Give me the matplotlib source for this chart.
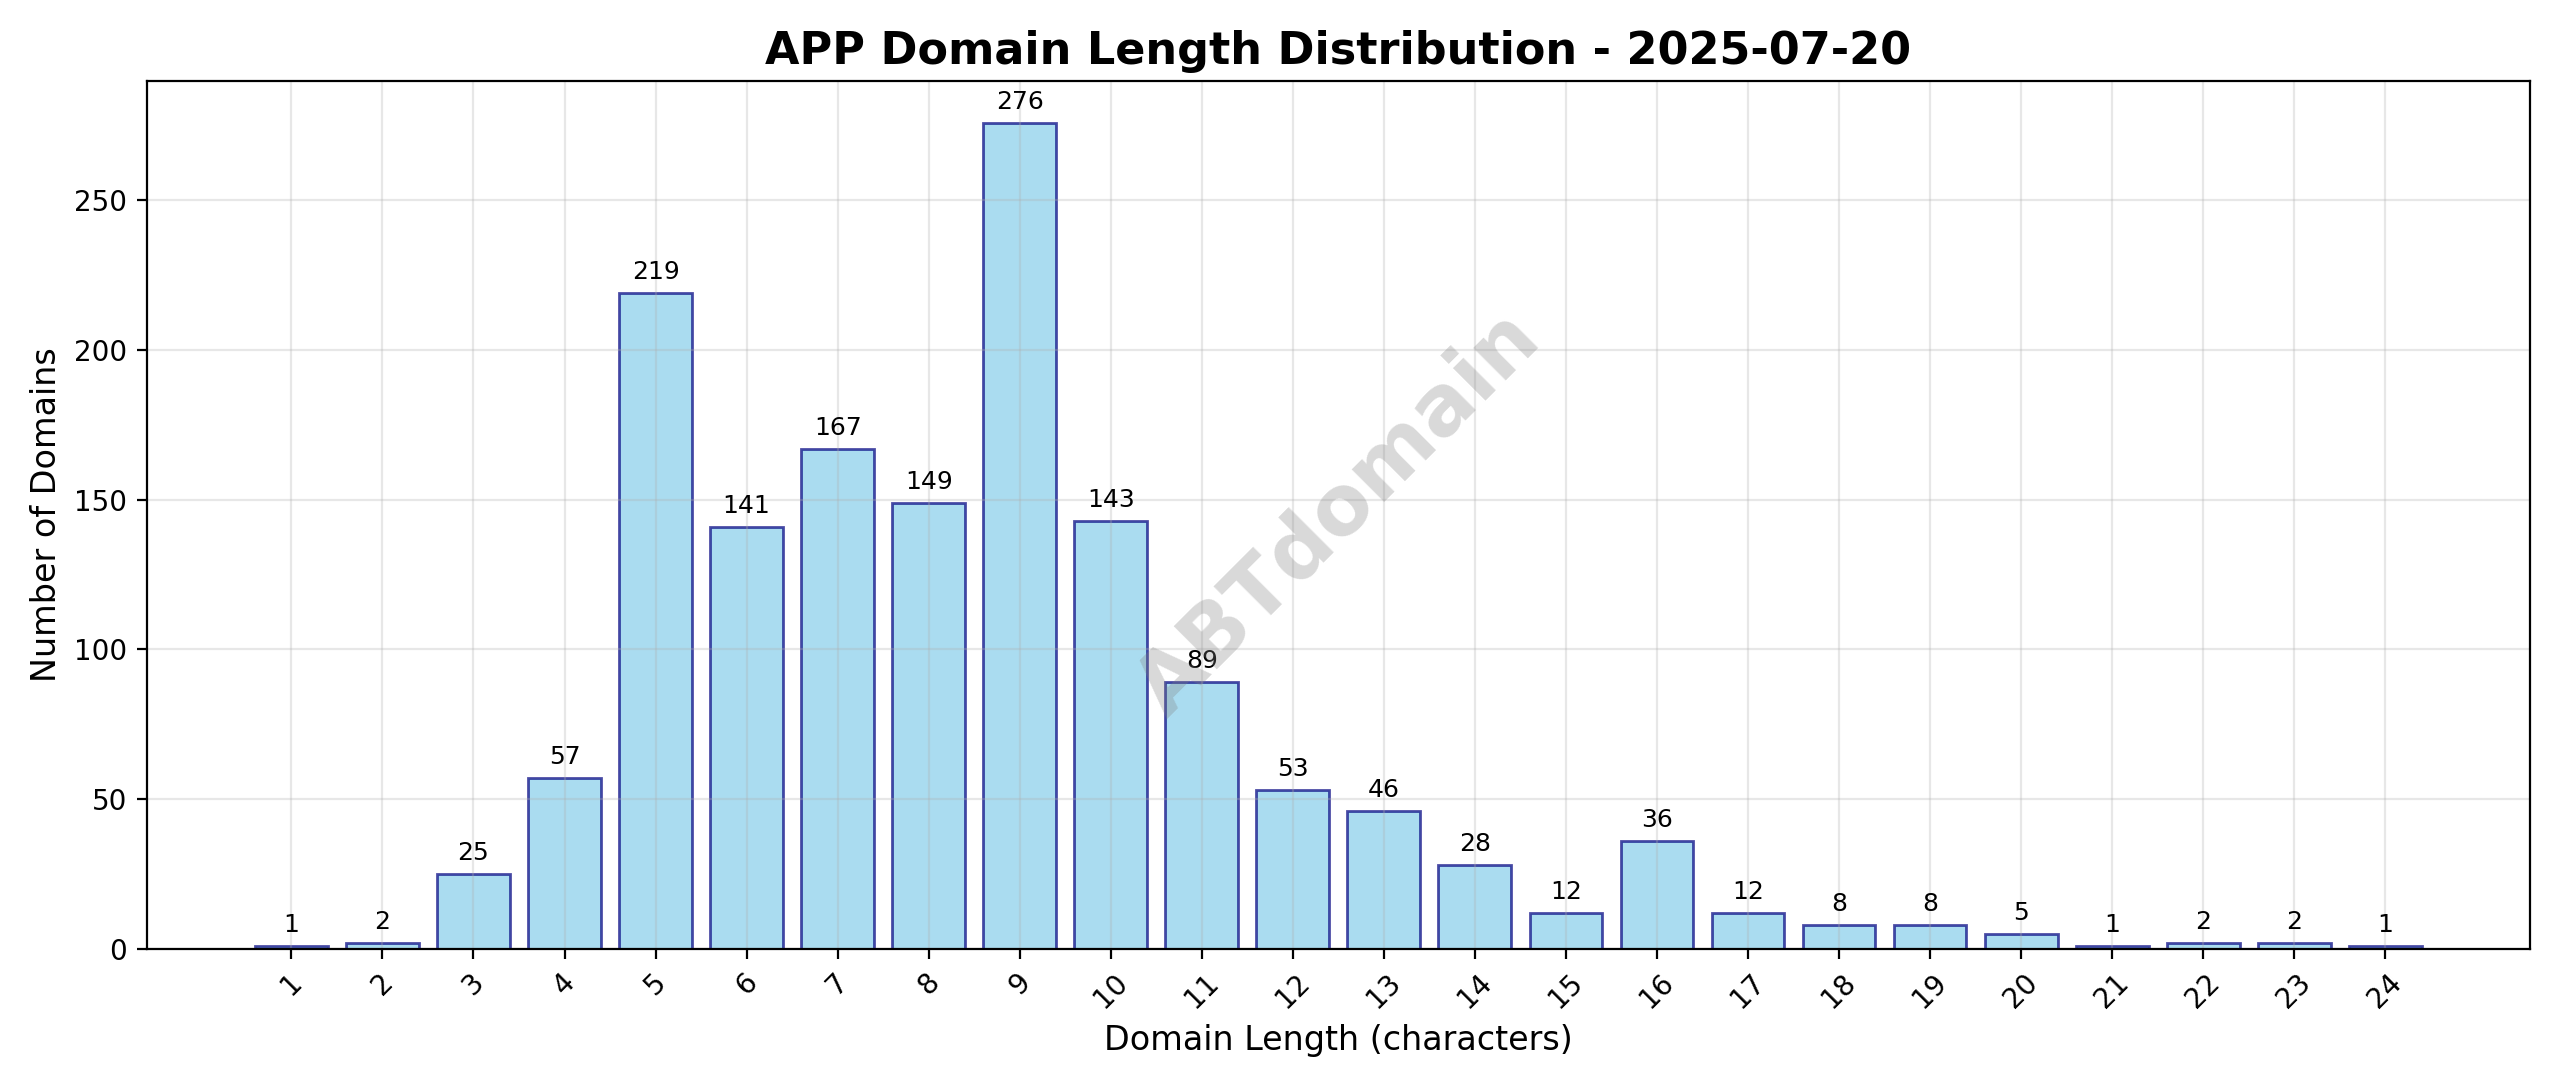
import matplotlib
matplotlib.use("Agg")
import matplotlib.pyplot as plt

lengths = list(range(1, 25))
counts = [1, 2, 25, 57, 219, 141, 167, 149, 276, 143, 89, 53, 46, 28, 12, 36, 12, 8, 8, 5, 1, 2, 2, 1]

fig, ax = plt.subplots(figsize=(12.8, 5.435), dpi=200)

bars = ax.bar(lengths, counts, color='skyblue', alpha=0.7, edgecolor='navy', linewidth=1)

for b, c in zip(bars, counts):
    ax.text(b.get_x() + b.get_width() / 2, b.get_height() + 3, str(c),
            ha='center', va='bottom', fontsize=9)

ax.set_title('APP Domain Length Distribution - 2025-07-20', fontsize=16, fontweight='bold')
ax.set_xlabel('Domain Length (characters)', fontsize=12)
ax.set_ylabel('Number of Domains', fontsize=12)
ax.set_xticks(lengths)
ax.set_xticklabels([str(l) for l in lengths], rotation=45)
ax.tick_params(labelsize=10)
ax.set_ylim(0, 290)
ax.grid(True, alpha=0.3)

ax.text(0.5, 0.5, 'ABTdomain', transform=ax.transAxes, fontsize=30, color='gray',
        alpha=0.3, ha='center', va='center', rotation=45, fontweight='bold')

plt.tight_layout()
plt.savefig('out.png', dpi=200)
